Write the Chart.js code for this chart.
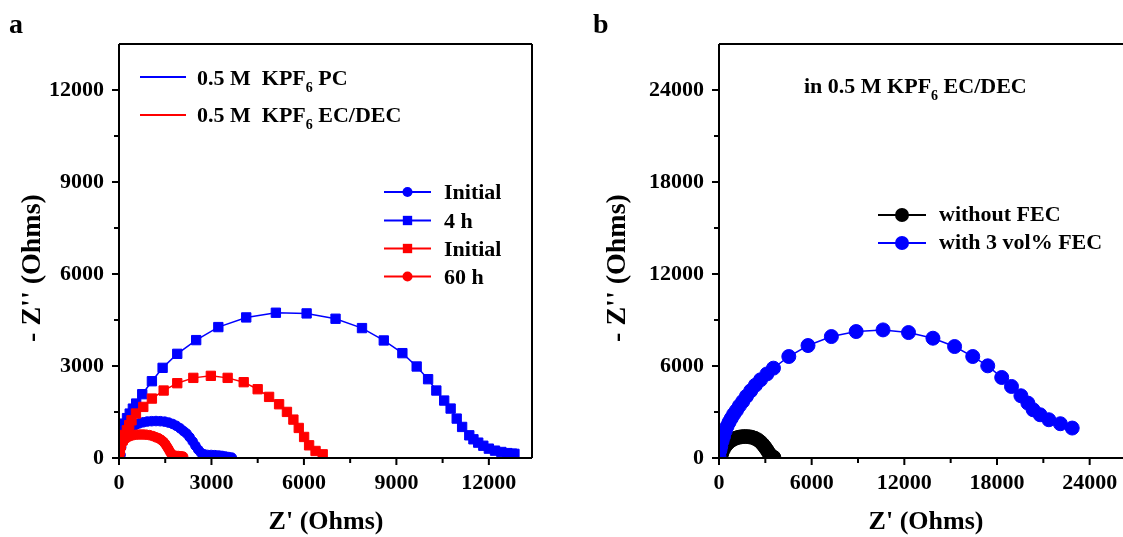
<!DOCTYPE html>
<html><head><meta charset="utf-8">
<script src="https://cdn.jsdelivr.net/npm/chart.js@4.4.1/dist/chart.umd.min.js"></script>
<style>
html,body{margin:0;padding:0;background:#fff;overflow:hidden;width:1123px;height:537px;}
#wrap{position:relative;width:1123px;height:537px;overflow:hidden;background:#fff;}
#ca{position:absolute;left:0;top:0;width:580px;height:537px;}
#cb{position:absolute;left:580px;top:0;width:600px;height:537px;}
</style></head><body>
<div id="wrap"><canvas id="ca" width="580" height="537"></canvas><canvas id="cb" width="600" height="537"></canvas></div>
<script>
// ---------- Panel a data ----------
const pcInitialX = [50,70,110,170,240,330,430,540,660,790,920,1060,1200,1340,1480,1610,1740,1860,1980,2090,2190,2290,2390,2480,2570,2660,2760,2870,2990,3110,3230,3340,3450,3560,3660];
const pcInitialY = [100,350,560,720,840,940,1020,1080,1130,1165,1190,1200,1205,1200,1185,1155,1110,1050,970,880,800,680,540,400,270,170,120,100,98,92,82,68,50,30,12];
const pc4hX = [20,50,100,174,260,348,450,557,754,1067,1415,1890,2504,3223,4128,5090,6087,7026,7884,8591,9194,9658,10029,10296,10551,10760,10957,11133,11365,11500,11655,11820,12000,12200,12406,12600,12754,12830];
const pc4hY = [400,700,950,1121,1300,1448,1610,1775,2080,2504,2940,3397,3844,4269,4584,4737,4715,4541,4236,3833,3419,2984,2570,2200,1873,1612,1285,1013,740,610,501,400,305,240,196,160,142,135];
const ecInitialX = [10,30,60,116,180,255,330,406,550,788,1067,1449,1890,2412,2980,3525,4046,4499,4870,5194,5449,5658,5832,6006,6168,6377,6609];
const ecInitialY = [50,250,420,577,750,904,1070,1230,1450,1666,1938,2200,2439,2613,2679,2613,2472,2243,1993,1753,1503,1252,980,686,414,229,120];
const ec60hX = [0,15,40,80,130,190,270,360,460,570,680,780,880,990,1100,1200,1290,1370,1440,1500,1550,1600,1650,1700,1760,1830,1920,2010,2080];
const ec60hY = [20,180,330,450,540,610,670,715,745,760,765,765,760,745,715,675,640,590,530,460,380,300,210,130,85,72,65,55,45];
const xTicksA = [0,3000,6000,9000,12000];
const xTickLabelsA = ['0','3000','6000','9000','12000'];
const yTicksA = [0,3000,6000,9000,12000];
const yTickLabelsA = ['0','3000','6000','9000','12000'];

// ---------- Panel b data ----------
const withFecX = [0,60,113,200,294,400,520,650,791,950,1130,1320,1537,1780,2056,2360,2689,3100,3525,4520,5763,7277,8881,10621,12271,13853,15254,16429,17401,18305,18938,19548,20000,20339,20791,21356,22102,22870];
const withFecY = [100,500,760,1100,1411,1750,2061,2330,2582,2850,3103,3400,3689,4030,4383,4750,5099,5480,5859,6618,7334,7920,8246,8354,8181,7812,7269,6618,6011,5251,4665,4058,3580,3146,2821,2495,2235,1953];
const noFecX = [100,180,280,400,540,700,880,1070,1270,1480,1700,1920,2130,2330,2520,2690,2840,2970,3080,3180,3280,3380,3470,3550];
const noFecY = [50,300,550,760,930,1080,1200,1290,1350,1390,1400,1390,1350,1280,1180,1040,880,720,560,400,250,130,70,40];
const xTicksB = [0,6000,12000,18000,24000];
const xTickLabelsB = ['0','6000','12000','18000','24000'];
const yTicksB = [0,6000,12000,18000,24000];
const yTickLabelsB = ['0','6000','12000','18000','24000'];

const FONT = "'Liberation Serif','Times New Roman',serif";
const BLUE = '#0000ff', RED = '#ff0000', BLACK = '#000000';

function pts(xs, ys){ return xs.map((x,i)=>({x:x, y:ys[i]})); }
function ds(label, xs, ys, color, style, r){
  return {label, data: pts(xs,ys), showLine:true, borderColor:color, backgroundColor:color,
    borderWidth:1.5, pointStyle:style, pointRadius:r, pointBackgroundColor:color,
    pointBorderColor:color, pointBorderWidth:1, tension:0, clip:0};
}
function midpoints(arr){ const m=[]; for(let i=0;i<arr.length;i++){ const d = i+1<arr.length? arr[i+1]-arr[i] : arr[1]-arr[0]; m.push(arr[i]+d/2);} return m; }

function rich(ctx, parts, x, y, size){
  let cx = x;
  ctx.textAlign='left'; ctx.textBaseline='alphabetic';
  for (const p of parts){
    const s = p.sub ? Math.round(size*0.62) : size;
    ctx.font = 'bold '+s+'px '+FONT;
    ctx.fillText(p.t, cx, p.sub ? y + size*0.3 : y);
    cx += ctx.measureText(p.t).width;
  }
}
function marker(ctx, style, x, y, r, color){
  ctx.fillStyle=color;
  if(style==='rect'){ const s=Math.SQRT1_2*r; ctx.fillRect(x-s,y-s,2*s,2*s); }
  else { ctx.beginPath(); ctx.arc(x,y,r,0,Math.PI*2); ctx.fill(); }
}

function makePlugin(cfg){
  return {
    id:'deco',
    afterDatasetsDraw(chart){
      const ctx = chart.ctx, a = chart.chartArea;
      const xs = chart.scales.x, ys = chart.scales.y;
      ctx.save();
      ctx.strokeStyle='#000'; ctx.fillStyle='#000';
      // frame
      ctx.lineWidth=2;
      ctx.beginPath();
      ctx.moveTo(a.left, a.top); ctx.lineTo(a.left, a.bottom); ctx.lineTo(a.right + (cfg.rightBorder?0:20), a.bottom);
      ctx.moveTo(a.left, a.top); ctx.lineTo(a.right + (cfg.rightBorder?0:20), a.top);
      if (cfg.rightBorder){ ctx.moveTo(a.right, a.top); ctx.lineTo(a.right, a.bottom); }
      ctx.stroke();
      // ticks
      ctx.beginPath();
      cfg.xMajor.forEach(v=>{const p=xs.getPixelForValue(v); ctx.moveTo(p,a.bottom); ctx.lineTo(p,a.bottom+7);});
      cfg.xMinor.forEach(v=>{ if(v<xs.max){const p=xs.getPixelForValue(v); ctx.moveTo(p,a.bottom); ctx.lineTo(p,a.bottom+5);} });
      cfg.yMajor.forEach(v=>{const p=ys.getPixelForValue(v); ctx.moveTo(a.left,p); ctx.lineTo(a.left-7,p);});
      cfg.yMinor.forEach(v=>{ if(v<ys.max){const p=ys.getPixelForValue(v); ctx.moveTo(a.left,p); ctx.lineTo(a.left-5,p);} });
      ctx.stroke();
      // axis titles
      ctx.font='bold 26px '+FONT;
      ctx.textAlign='center'; ctx.textBaseline='middle';
      ctx.fillText("Z' (Ohms)", cfg.xTitleX, 522);
      ctx.font='bold 28px '+FONT;
      ctx.save(); ctx.translate(cfg.yTitleX, 268); ctx.rotate(-Math.PI/2);
      ctx.fillText("- Z'' (Ohms)", 0, 0); ctx.restore();
      // panel letter
      ctx.font='bold 28px '+FONT; ctx.textAlign='left'; ctx.textBaseline='alphabetic';
      ctx.fillText(cfg.letter, cfg.letterX, 33);
      // texts
      (cfg.texts||[]).forEach(t=>{ ctx.fillStyle='#000'; rich(ctx, t.parts, t.x, t.y, t.size); });
      // legend entries
      (cfg.legend||[]).forEach(e=>{
        ctx.strokeStyle=e.color; ctx.lineWidth=2;
        ctx.beginPath(); ctx.moveTo(e.x1, e.ly); ctx.lineTo(e.x2, e.ly); ctx.stroke();
        if(e.style) marker(ctx, e.style, (e.x1+e.x2)/2, e.ly, e.r, e.color);
        ctx.fillStyle='#000';
        rich(ctx, e.parts, e.tx, e.ty, 22);
      });
      ctx.restore();
    }
  };
}

function baseOptions(xmax, ymax, xt, xl, yt, yl, yWidth, rightPad){
  const tickFont = {family:FONT, size:22, weight:'bold'};
  return {
    responsive:false, animation:false, devicePixelRatio:1,
    layout:{padding:{top:44, right:rightPad, left:0, bottom:0}},
    plugins:{legend:{display:false}, tooltip:{enabled:false}},
    scales:{
      x:{type:'linear', min:0, max:xmax,
        afterFit(s){ s.height = 537-458; },
        afterBuildTicks(s){ s.ticks = xt.map(v=>({value:v})); },
        ticks:{font:tickFont, color:'#000', padding:12, maxRotation:0, autoSkip:false,
          callback:(v,i)=>xl[i]},
        grid:{display:false, drawTicks:false}, border:{display:false}},
      y:{type:'linear', min:0, max:ymax,
        afterFit(s){ s.width = yWidth; },
        afterBuildTicks(s){ s.ticks = yt.map(v=>({value:v})); },
        ticks:{font:tickFont, color:'#000', padding:15, autoSkip:false,
          callback:(v,i)=>yl[i]},
        grid:{display:false, drawTicks:false}, border:{display:false}}
    }
  };
}

// Panel a
new Chart(document.getElementById('ca'), {
  type:'scatter',
  data:{datasets:[
    ds('60 h', ec60hX, ec60hY, RED, 'circle', 4.8),
    ds('Initial (EC/DEC)', ecInitialX, ecInitialY, RED, 'rect', 6.6),
    ds('Initial (PC)', pcInitialX, pcInitialY, BLUE, 'circle', 4.8),
    ds('4 h', pc4hX, pc4hY, BLUE, 'rect', 6.6)
  ]},
  options: baseOptions(13400, 13500, xTicksA, xTickLabelsA, yTicksA, yTickLabelsA, 119, 580-532),
  plugins:[makePlugin({
    letter:'a', letterX:9, yTitleX:33, xTitleX:326, rightBorder:true,
    xMajor:xTicksA, xMinor:midpoints(xTicksA), yMajor:yTicksA, yMinor:midpoints(yTicksA),
    legend:[
      {color:BLUE, x1:140, x2:186, ly:77, tx:197, ty:85, parts:[{t:'0.5 M  KPF'},{t:'6',sub:true},{t:' PC'}]},
      {color:RED, x1:140, x2:186, ly:115, tx:197, ty:122, parts:[{t:'0.5 M  KPF'},{t:'6',sub:true},{t:' EC/DEC'}]},
      {color:BLUE, style:'circle', r:5, x1:384, x2:431, ly:192, tx:444, ty:199, parts:[{t:'Initial'}]},
      {color:BLUE, style:'rect', r:6.6, x1:384, x2:431, ly:220.5, tx:444, ty:227.5, parts:[{t:'4 h'}]},
      {color:RED, style:'rect', r:6.6, x1:384, x2:431, ly:248.5, tx:444, ty:255.5, parts:[{t:'Initial'}]},
      {color:RED, style:'circle', r:5, x1:384, x2:431, ly:276.5, tx:444, ty:283.5, parts:[{t:'60 h'}]}
    ]
  })]
});

// Panel b
new Chart(document.getElementById('cb'), {
  type:'scatter',
  data:{datasets:[
    ds('with 3 vol% FEC', withFecX, withFecY, BLUE, 'circle', 7),
    ds('without FEC', noFecX, noFecY, BLACK, 'circle', 7)
  ]},
  options: baseOptions(27000, 27000, xTicksB, xTickLabelsB, yTicksB, yTickLabelsB, 139, 600-556),
  plugins:[makePlugin({
    letter:'b', letterX:13, yTitleX:38, xTitleX:346, rightBorder:false,
    xMajor:xTicksB, xMinor:midpoints(xTicksB), yMajor:yTicksB, yMinor:midpoints(yTicksB),
    texts:[{x:224, y:93, size:22, parts:[{t:'in 0.5 M KPF'},{t:'6',sub:true},{t:' EC/DEC'}]}],
    legend:[
      {color:BLACK, style:'circle', r:7, x1:298, x2:346, ly:215, tx:359, ty:221, parts:[{t:'without FEC'}]},
      {color:BLUE, style:'circle', r:7, x1:298, x2:346, ly:243, tx:359, ty:249, parts:[{t:'with 3 vol% FEC'}]}
    ]
  })]
});
</script></body></html>
